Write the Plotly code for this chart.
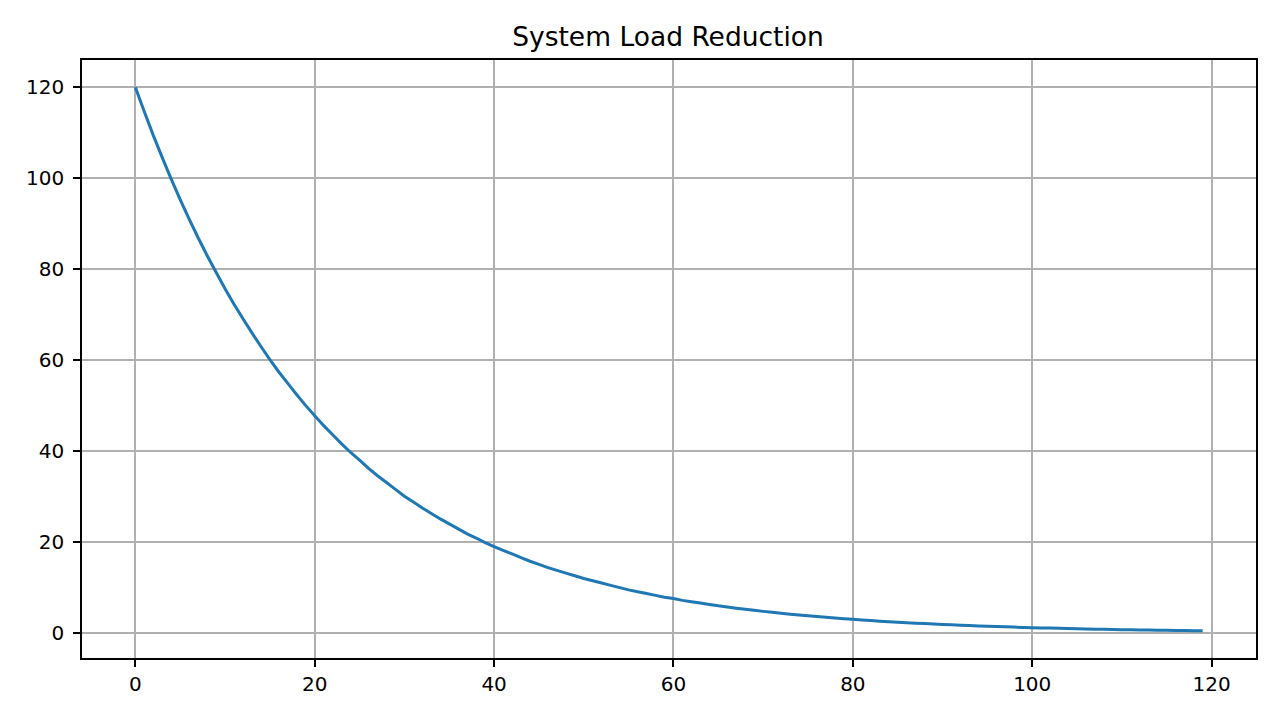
import plotly.graph_objects as go

# time step (s) and load
time_steps = list(range(120))
load = [
    120.0, 114.6, 109.4, 104.5, 99.8, 95.3, 91.0, 86.9, 83.0, 79.3,
    75.7, 72.3, 69.1, 66.0, 63.0, 60.1, 57.4, 54.9, 52.4, 50.0,
    47.8, 45.6, 43.6, 41.6, 39.7, 38.0, 36.2, 34.6, 33.1, 31.6,
    30.1, 28.8, 27.5, 26.3, 25.1, 24.0, 22.9, 21.8, 20.9, 19.9,
    19.0, 18.2, 17.4, 16.6, 15.8, 15.1, 14.4, 13.8, 13.2, 12.6,
    12.0, 11.5, 11.0, 10.5, 10.0, 9.5, 9.1, 8.7, 8.3, 7.9,
    7.6, 7.2, 6.9, 6.6, 6.3, 6.0, 5.75, 5.49, 5.24, 5.01,
    4.78, 4.57, 4.36, 4.17, 3.98, 3.80, 3.63, 3.47, 3.31, 3.16,
    3.02, 2.88, 2.75, 2.63, 2.51, 2.40, 2.29, 2.19, 2.09, 2.00,
    1.91, 1.82, 1.74, 1.66, 1.59, 1.52, 1.45, 1.38, 1.32, 1.26,
    1.20, 1.15, 1.10, 1.05, 1.00, 0.96, 0.91, 0.87, 0.83, 0.80,
    0.76, 0.73, 0.70, 0.66, 0.63, 0.61, 0.58, 0.55, 0.53, 0.51,
]
x_ticks = [0, 20, 40, 60, 80, 100, 120]
y_ticks = [0, 20, 40, 60, 80, 100, 120]

font_name = "DejaVu Sans"

fig = go.Figure()
fig.add_trace(go.Scatter(x=time_steps, y=load, mode="lines",
                         line=dict(color="#1f77b4", width=3, simplify=False),
                         showlegend=False))

axis_style = dict(
    showline=True, linecolor="black", linewidth=1.5, mirror=True,
    showgrid=True, gridcolor="#b0b0b0", gridwidth=1.6,
    zeroline=False,
    ticks="outside", ticklen=7, tickwidth=1.5, tickcolor="black",
    tickfont=dict(family=font_name, size=20, color="black"),
)
fig.update_xaxes(range=[-5.95, 124.95], tickvals=x_ticks, **axis_style)
fig.update_yaxes(range=[-5.47, 125.97], tickvals=y_ticks,
                 ticklabelstandoff=5, **axis_style)

# the page puts the figure 8px in from the top-left corner
fig.update_layout(
    width=1264, height=704,
    paper_bgcolor="white", plot_bgcolor="white",
    margin=dict(l=74, r=16, t=52, b=54),
    title=dict(text="System Load Reduction", x=(668 - 8) / 1264, xanchor="center",
               y=1 - 29 / 704, yanchor="middle",
               font=dict(family=font_name, size=26.5, color="black")),
)

fig.write_html("out.html")
